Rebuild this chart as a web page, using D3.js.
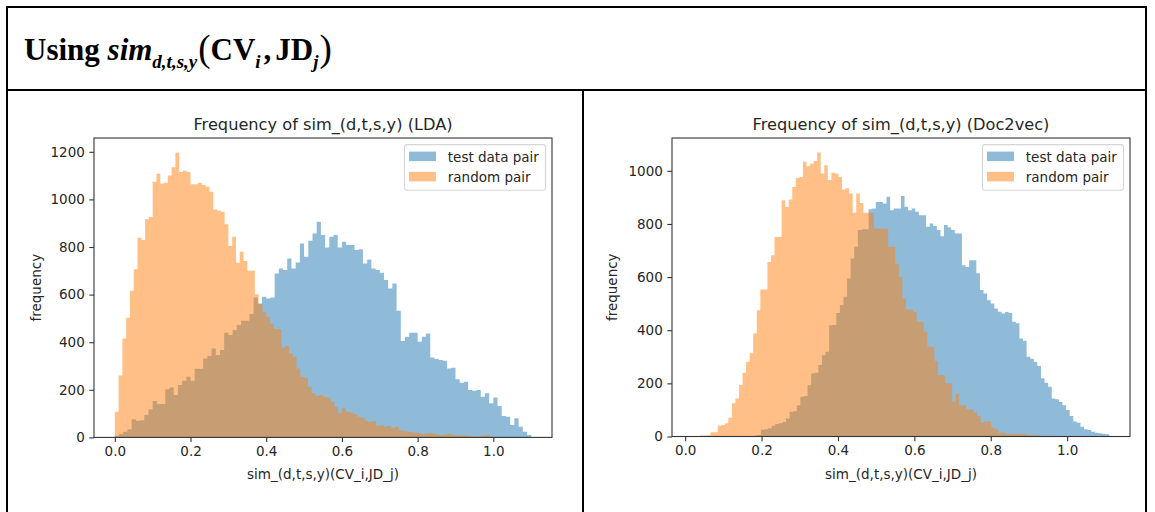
<!DOCTYPE html>
<html>
<head>
<meta charset="utf-8">
<script src="https://d3js.org/d3.v7.min.js"></script>
<style>
  body { margin: 0; background: #fff; }
  svg text { font-family: "DejaVu Sans", sans-serif; fill: #262626; }
</style>
</head>
<body>
<svg id="fig" width="1155" height="512"></svg>
<script>
// ---- data (counts per bin) ----
var seriesNames = ["test data pair", "random pair"];
var xTicks = [0.0, 0.2, 0.4, 0.6, 0.8, 1.0];

// LDA panel
var ldaTestRange = [0.0, 1.1];
var ldaTestCounts = [7,14,24,34,76,70,72,94,118,153,140,140,202,210,178,220,238,255,238,288,
  288,332,342,374,346,367,440,430,451,472,490,490,518,588,563,591,584,588,689,710,
  703,752,710,735,815,759,826,857,906,850,798,843,850,798,822,808,808,787,791,731,
  748,710,703,692,661,626,647,532,405,423,440,440,402,423,437,336,329,325,322,290,
  293,244,230,234,199,196,199,171,185,143,168,132,90,87,52,80,45,24,10];
var ldaRandomRange = [0.0, 1.0];
var ldaRandomCounts = [108,260,416,503,616,706,839,829,917,926,1074,1108,1067,1070,1100,1135,1196,1115,1120,1115,
  1064,1064,1070,1061,1053,1032,958,952,948,896,804,843,734,780,741,700,700,602,560,528,
  507,479,455,455,378,384,353,339,290,255,252,213,185,174,178,171,167,150,129,101,
  122,108,104,98,87,83,70,66,69,49,52,45,48,38,45,30,28,24,22,20,
  18,14,16,17,15,12,10,13,14,11,9,8,8,7,4,3,5,8,9,3];
var ldaYTicks = [0, 200, 400, 600, 800, 1000, 1200];

// Doc2vec panel
var d2vTestRange = [0.17, 1.11];
var d2vTestCounts = [2,4,6,25,27,31,40,47,50,55,68,93,95,118,150,152,193,237,240,269,
  306,319,419,420,465,495,526,595,670,714,777,780,780,855,858,883,883,877,902,852,
  858,858,905,865,852,858,846,833,833,789,802,792,777,754,796,787,777,764,764,645,
  638,663,663,614,551,538,513,501,482,470,463,469,465,432,426,369,360,300,293,280,
  265,219,202,187,143,140,130,118,100,77,56,52,37,27,24,18,14,12,10,8];
var d2vRandomRange = [0.02, 0.95];
var d2vRandomCounts = [1,2,4,4,5,16,16,40,43,50,71,125,143,194,240,281,313,388,475,553,
  553,657,682,751,751,889,864,892,939,973,977,1034,1017,1027,1037,1069,990,1021,965,993,
  990,977,930,934,915,842,915,879,842,842,842,783,783,783,783,714,714,650,600,520,
  478,478,469,432,432,394,338,338,285,231,231,200,200,131,162,118,118,102,102,90,
  77,52,56,56,34,27,14,14,9,9,9,9,9,9,5,5,5,5,1,1];
var d2vYTicks = [0, 200, 400, 600, 800, 1000];

var colors = ["#1f77b4", "#ff7f0e"];

var svg = d3.select("#fig");

// ---- table frame ----
var frame = svg.append("g").attr("stroke", "#000").attr("stroke-width", 2);
frame.append("line").attr("x1", 7).attr("x2", 7).attr("y1", 7).attr("y2", 512);
frame.append("line").attr("x1", 1146).attr("x2", 1146).attr("y1", 7).attr("y2", 512);
frame.append("line").attr("x1", 6).attr("x2", 1147).attr("y1", 7).attr("y2", 7);
frame.append("line").attr("x1", 6).attr("x2", 1147).attr("y1", 90).attr("y2", 90);
frame.append("line").attr("x1", 583).attr("x2", 583).attr("y1", 90).attr("y2", 512);

// header: Using sim_{d,t,s,y}(CV_i, JD_j)
var head = svg.append("text")
    .attr("x", 24).attr("y", 60)
    .style("font-family", "'Liberation Serif', 'DejaVu Serif', serif")
    .style("font-weight", "bold")
    .style("font-size", "31px")
    .style("fill", "#000");
head.append("tspan").text("Using ");
head.append("tspan").style("font-style", "italic").text("sim");
head.append("tspan").style("font-style", "italic").style("font-size", "19px").attr("dy", 8).text("d,t,s,y");
head.append("tspan").style("font-size", "37px").style("font-weight", "normal").attr("dx", 1).attr("dy", -7).text("(");
head.append("tspan").attr("dy", -1).text("CV");
head.append("tspan").style("font-style", "italic").style("font-size", "19px").attr("dy", 8).text("i");
head.append("tspan").attr("dx", 3).attr("dy", -8).text(",");
head.append("tspan").attr("dx", 4).text("JD");
head.append("tspan").style("font-style", "italic").style("font-size", "19px").attr("dy", 8).text("j");
head.append("tspan").style("font-size", "37px").style("font-weight", "normal").attr("dx", 1).attr("dy", -7).text(")");

// ---- one matplotlib-like histogram panel ----
function drawPanel(p) {
  var g = svg.append("g");
  var x = d3.scaleLinear().domain(p.xDomain).range([p.left, p.right]);
  var y = d3.scaleLinear().domain([0, p.yMax]).range([p.bottom, p.top]);

  var area = d3.area()
      .curve(d3.curveStepAfter)
      .x(function (d) { return x(d[0]); })
      .y0(y(0))
      .y1(function (d) { return y(d[1]); });

  p.series.forEach(function (s, si) {
    var w = (s.range[1] - s.range[0]) / s.counts.length;
    var pts = s.counts.map(function (c, i) { return [s.range[0] + i * w, c]; });
    pts.push([s.range[1], s.counts[s.counts.length - 1]]);
    g.append("path")
        .attr("d", area(pts))
        .attr("fill", colors[si])
        .attr("fill-opacity", 0.5);
  });

  var xAxis = g.append("g")
      .attr("transform", "translate(0," + p.bottom + ")")
      .call(d3.axisBottom(x).tickValues(xTicks).tickFormat(d3.format(".1f"))
            .tickSize(4.7).tickPadding(4.5).tickSizeOuter(0));
  var yAxis = g.append("g")
      .attr("transform", "translate(" + p.left + ",0)")
      .call(d3.axisLeft(y).tickValues(p.yTicks).tickFormat(d3.format("d"))
            .tickSize(4.7).tickPadding(4.5).tickSizeOuter(0));
  [xAxis, yAxis].forEach(function (a) {
    a.select(".domain").remove();
    a.selectAll("line").attr("stroke", "#333").attr("stroke-width", 1.1);
    a.selectAll("text").style("font-size", "13.5px")
        .style("font-family", "'DejaVu Sans', sans-serif").attr("fill", "#262626");
  });

  g.append("rect")
      .attr("x", p.left).attr("y", p.top)
      .attr("width", p.right - p.left).attr("height", p.bottom - p.top)
      .attr("fill", "none").attr("stroke", "#333").attr("stroke-width", 1.1);

  g.append("text")
      .attr("x", (p.left + p.right) / 2).attr("y", p.top - 8.3)
      .attr("text-anchor", "middle").style("font-size", "16.2px")
      .text(p.title);
  g.append("text")
      .attr("x", (p.left + p.right) / 2).attr("y", 479)
      .attr("text-anchor", "middle").style("font-size", "13.5px")
      .text("sim_(d,t,s,y)(CV_i,JD_j)");
  g.append("text")
      .attr("transform", "translate(" + p.ylabelX + "," + (p.top + p.bottom) / 2 + ") rotate(-90)")
      .attr("text-anchor", "middle").style("font-size", "13.5px")
      .text("frequency");

  // legend
  var lw = 141, lh = 45.7;
  var lx = p.right - 6.5 - lw, ly = p.top + 6.6;
  var leg = g.append("g");
  leg.append("rect")
      .attr("x", lx).attr("y", ly).attr("width", lw).attr("height", lh)
      .attr("rx", 2.5).attr("fill", "#fff").attr("fill-opacity", 0.8)
      .attr("stroke", "#d6d6d6").attr("stroke-width", 1.1);
  seriesNames.forEach(function (name, i) {
    leg.append("rect")
        .attr("x", lx + 4.5).attr("y", ly + 7 + i * 20.3)
        .attr("width", 27).attr("height", 9.5)
        .attr("fill", colors[i]).attr("fill-opacity", 0.5);
    leg.append("text")
        .attr("x", lx + 43.3).attr("y", ly + 17 + i * 20.3)
        .style("font-size", "13.5px")
        .text(name);
  });
}

drawPanel({
  left: 94, right: 552, top: 138, bottom: 437.4,
  xDomain: [-0.055, 1.155], yMax: 1258, yTicks: ldaYTicks, ylabelX: 40.5,
  title: "Frequency of sim_(d,t,s,y) (LDA)",
  series: [{counts: ldaTestCounts, range: ldaTestRange},
           {counts: ldaRandomCounts, range: ldaRandomRange}]
});
drawPanel({
  left: 672, right: 1130, top: 138, bottom: 436.5,
  xDomain: [-0.0345, 1.1645], yMax: 1123.5, yTicks: d2vYTicks, ylabelX: 617,
  title: "Frequency of sim_(d,t,s,y) (Doc2vec)",
  series: [{counts: d2vTestCounts, range: d2vTestRange},
           {counts: d2vRandomCounts, range: d2vRandomRange}]
});
</script>
</body>
</html>
